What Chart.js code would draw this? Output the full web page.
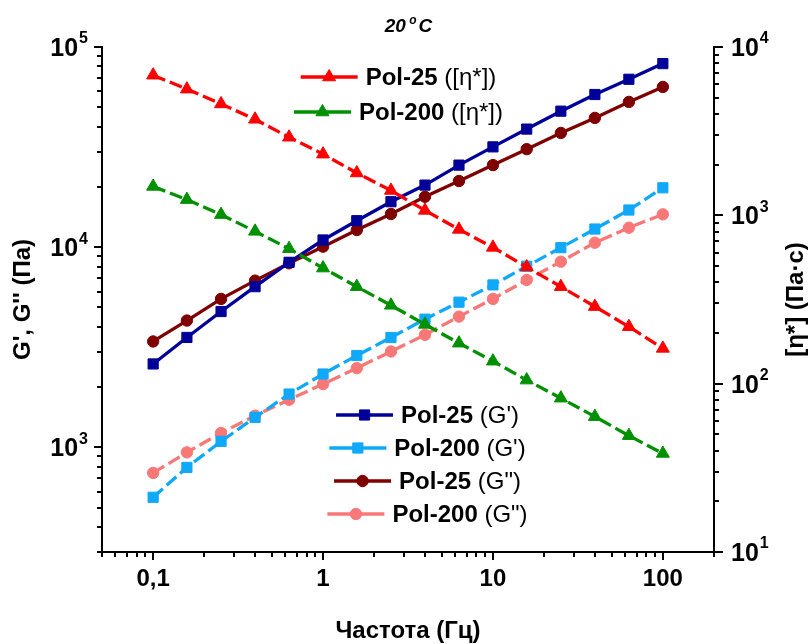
<!DOCTYPE html>
<html>
<head>
<meta charset="utf-8">
<script src="https://cdn.jsdelivr.net/npm/chart.js@4.4.0/dist/chart.umd.min.js"></script>
<style>
  html, body { margin: 0; padding: 0; background: #fff; }
  #wrap { width: 808px; height: 644px; position: relative; }
</style>
</head>
<body>
<div id="wrap"><canvas id="c" width="808" height="644"></canvas></div>
<script>
// Oscillation frequency sweep, Hz
const freq = [0.1, 0.158, 0.251, 0.398, 0.631, 1, 1.58, 2.51, 3.98, 6.31, 10, 15.8, 25.1, 39.8, 63.1, 100];

// Complex viscosity [η*], Pa·s (right axis)
const etaPol25  = [6800, 5620, 4590, 3720, 2910, 2310, 1785, 1405, 1070, 825, 645, 493, 377, 287, 218, 162];
const etaPol200 = [1485, 1240, 1010, 803, 634, 486, 377, 292, 225, 174, 136, 105, 82, 63.7, 49.1, 38.5];

// Storage modulus G', Pa (left axis)
const gStorePol25  = [2610, 3540, 4770, 6350, 8400, 10860, 13560, 16870, 20420, 25700, 31700, 38900, 47800, 57900, 69000, 82600];
const gStorePol200 = [563, 794, 1071, 1412, 1846, 2324, 2875, 3537, 4367, 5312, 6480, 8030, 9940, 12320, 15330, 19800];

// Loss modulus G'', Pa (left axis)
const gLossPol25  = [3380, 4300, 5515, 6805, 8310, 10060, 12180, 14650, 17860, 21400, 25700, 30880, 37220, 44240, 53180, 63170];
const gLossPol200 = [745, 944, 1180, 1439, 1729, 2070, 2488, 3012, 3648, 4500, 5515, 6857, 8465, 10530, 12510, 14590];

// Tick labels
const xTickValues = [0.1, 1, 10, 100];
const xTickLabels = ['0,1', '1', '10', '100'];
const yLeftExponents = [3, 4, 5];
const yRightExponents = [1, 2, 3, 4];

const FONT = '"Liberation Sans", Arial, Helvetica, sans-serif';
const DASH = [13, 5];

const pts = (ys) => freq.map((f, i) => ({ x: f, y: ys[i] }));

function series(label, ys, axis, color, style, radius, dashed) {
  return {
    label, data: pts(ys), yAxisID: axis,
    borderColor: color, backgroundColor: color,
    pointBackgroundColor: color, pointBorderColor: color,
    pointStyle: style, pointRadius: radius, pointBorderWidth: 1,
    borderWidth: 3.3, borderDash: dashed ? DASH : [],
    tension: 0, fill: false
  };
}

const datasets = [
  series('Pol-25 ([η*])',  etaPol25,  'y1', '#FF0000', 'triangle', 7.5, true),
  series('Pol-200 ([η*])', etaPol200, 'y1', '#009000', 'triangle', 7.5, true),
  series("Pol-25 (G')",    gStorePol25,  'y', '#000099', 'rect', 7.2, false),
  series("Pol-200 (G')",   gStorePol200, 'y', '#10A8F8', 'rect', 7.2, true),
  series('Pol-25 (G")',    gLossPol25,   'y', '#7F0000', 'circle', 5.7, false),
  series('Pol-200 (G")',   gLossPol200,  'y', '#F87878', 'circle', 5.7, true)
];

// Top legend: viscosity curves; bottom legend: moduli
const legendTop = [
  { ds: 0, bold: 'Pol-25', rest: ' ([η*])' },
  { ds: 1, bold: 'Pol-200', rest: ' ([η*])' }
];
const legendBottom = [
  { ds: 2, bold: 'Pol-25', rest: " (G')" },
  { ds: 3, bold: 'Pol-200', rest: " (G')" },
  { ds: 4, bold: 'Pol-25', rest: ' (G")' },
  { ds: 5, bold: 'Pol-200', rest: ' (G")' }
];

function logTicks(min, max) {
  const out = [];
  for (let d = Math.floor(Math.log10(min)); d <= Math.ceil(Math.log10(max)); d++) {
    for (let m = 1; m <= 9; m++) {
      const v = m * Math.pow(10, d);
      if (v >= min * 0.999 && v <= max * 1.001) out.push({ v, major: m === 1 });
    }
  }
  return out;
}

function powerLabel(ctx, exp, x, y, align) {
  ctx.font = 'bold 25px ' + FONT;
  const wBase = ctx.measureText('10').width;
  ctx.font = 'bold 16px ' + FONT;
  const wExp = ctx.measureText(String(exp)).width;
  const total = wBase + 1 + wExp;
  const x0 = align === 'right' ? x - total : x;
  ctx.textAlign = 'left';
  ctx.textBaseline = 'middle';
  ctx.font = 'bold 25px ' + FONT;
  ctx.fillText('10', x0, y + 2);
  ctx.font = 'bold 16px ' + FONT;
  ctx.fillText(String(exp), x0 + wBase + 1, y - 8);
}

function legendRow(chart, item, cx, y) {
  const ctx = chart.ctx;
  const ds = chart.data.datasets[item.ds];
  ctx.font = 'bold 24px ' + FONT;
  const w1 = ctx.measureText(item.bold).width;
  ctx.font = '24px ' + FONT;
  const w2 = ctx.measureText(item.rest).width;
  const x0 = cx - (w1 + w2) / 2;
  const lx1 = x0 - 8, lx0 = lx1 - 57;
  ctx.save();
  ctx.strokeStyle = ds.borderColor;
  ctx.lineWidth = 3.3;
  ctx.setLineDash([]);
  ctx.beginPath();
  ctx.moveTo(lx0, y);
  ctx.lineTo(lx1, y);
  ctx.stroke();
  ctx.fillStyle = ds.pointBackgroundColor;
  ctx.lineWidth = 1;
  Chart.helpers.drawPoint(ctx, {
    pointStyle: ds.pointStyle, radius: ds.pointRadius, rotation: 0, borderWidth: 1
  }, (lx0 + lx1) / 2, y);
  ctx.restore();
  ctx.fillStyle = '#000';
  ctx.textAlign = 'left';
  ctx.textBaseline = 'middle';
  ctx.font = 'bold 24px ' + FONT;
  ctx.fillText(item.bold, x0, y + 1);
  ctx.font = '24px ' + FONT;
  ctx.fillText(item.rest, x0 + w1, y + 1);
}

const decor = {
  id: 'decor',
  afterDraw(chart) {
    const ctx = chart.ctx;
    const a = chart.chartArea;
    const sx = chart.scales.x, sy = chart.scales.y, sy1 = chart.scales.y1;
    ctx.save();
    ctx.strokeStyle = '#000';
    ctx.fillStyle = '#000';
    ctx.lineWidth = 2;
    ctx.setLineDash([]);

    // tick marks, pointing outward
    ctx.beginPath();
    logTicks(sx.min, sx.max).forEach(t => {
      const px = Math.round(sx.getPixelForValue(t.v));
      ctx.moveTo(px, a.bottom);
      ctx.lineTo(px, a.bottom + (t.major ? 8 : 5));
    });
    logTicks(sy.min, sy.max).forEach(t => {
      const py = Math.round(sy.getPixelForValue(t.v));
      ctx.moveTo(a.left, py);
      ctx.lineTo(a.left - (t.major ? 8 : 5), py);
    });
    logTicks(sy1.min, sy1.max).forEach(t => {
      const py = Math.round(sy1.getPixelForValue(t.v));
      ctx.moveTo(a.right, py);
      ctx.lineTo(a.right + (t.major ? 9 : 5), py);
    });
    ctx.stroke();

    // tick labels
    ctx.textAlign = 'center';
    ctx.textBaseline = 'middle';
    ctx.font = 'bold 24px ' + FONT;
    xTickValues.forEach((v, i) => {
      ctx.fillText(xTickLabels[i], sx.getPixelForValue(v), a.bottom + 27);
    });
    yLeftExponents.forEach(e => {
      powerLabel(ctx, e, a.left - 14, sy.getPixelForValue(Math.pow(10, e)), 'right');
    });
    yRightExponents.forEach(e => {
      powerLabel(ctx, e, a.right + 17, sy1.getPixelForValue(Math.pow(10, e)), 'left');
    });

    // axis titles
    ctx.textAlign = 'center';
    ctx.textBaseline = 'middle';
    ctx.font = 'bold 24px ' + FONT;
    ctx.fillText('Частота (Гц)', (a.left + a.right) / 2, 631);
    const midY = (a.top + a.bottom) / 2;
    ctx.save();
    ctx.translate(23, midY);
    ctx.rotate(-Math.PI / 2);
    ctx.fillText("G', G'' (Па)", 0, 0);
    ctx.restore();
    ctx.save();
    ctx.translate(796, midY);
    ctx.rotate(-Math.PI / 2);
    ctx.fillText('[η*] (Па·с)', 0, 0);
    ctx.restore();

    // heading: 20 °C
    ctx.font = 'italic bold 19px ' + FONT;
    const w20 = ctx.measureText('20 ').width;
    const wC = ctx.measureText('C').width;
    ctx.font = 'italic bold 12px ' + FONT;
    const wo = ctx.measureText('o').width;
    const hx = 409 - (w20 + wo + 1 + wC) / 2;
    ctx.textAlign = 'left';
    ctx.font = 'italic bold 19px ' + FONT;
    ctx.fillText('20 ', hx, 27);
    ctx.font = 'italic bold 12px ' + FONT;
    ctx.fillText('o', hx + w20 - 2, 21);
    ctx.font = 'italic bold 19px ' + FONT;
    ctx.fillText('C', hx + w20 + wo, 27);
    ctx.restore();

    // legends
    legendTop.forEach((it, i) => legendRow(chart, it, 431, 77 + i * 35));
    legendBottom.forEach((it, i) => legendRow(chart, it, 460, 415 + i * 33));
  }
};

const axisBase = {
  type: 'logarithmic',
  bounds: 'data',
  grid: { display: false, drawTicks: false, tickLength: 0 },
  ticks: { display: false },
  border: { display: true, color: '#000', width: 2 }
};

new Chart(document.getElementById('c').getContext('2d'), {
  type: 'line',
  data: { datasets },
  options: {
    responsive: false,
    animation: false,
    parsing: true,
    layout: { padding: { left: 102, right: 94, top: 47, bottom: 92 } },
    plugins: { legend: { display: false }, tooltip: { enabled: false } },
    scales: {
      x: Object.assign({}, axisBase, { position: 'bottom', min: 0.05, max: 200 }),
      y: Object.assign({}, axisBase, { position: 'left', min: 300, max: 100000 }),
      y1: Object.assign({}, axisBase, { position: 'right', min: 10, max: 10000 })
    }
  },
  plugins: [decor]
});
</script>
</body>
</html>
